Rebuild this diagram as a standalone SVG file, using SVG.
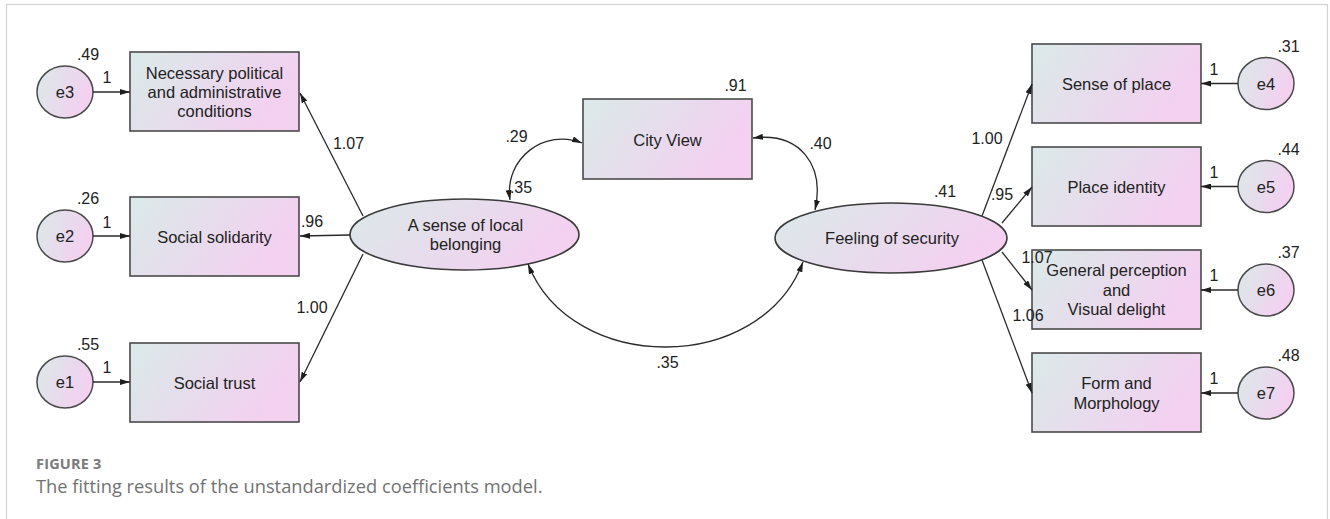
<svg xmlns="http://www.w3.org/2000/svg" width="1330" height="519" viewBox="0 0 1330 519">
<defs>
<linearGradient id="g" x1="0" y1="0" x2="1" y2="0.35">
<stop offset="0" stop-color="#dbeae9"/>
<stop offset="0.5" stop-color="#e6ddec"/>
<stop offset="1" stop-color="#f4d0f1"/>
</linearGradient>
<marker id="arr" viewBox="0 0 10 6" refX="10" refY="3" markerWidth="10" markerHeight="6" orient="auto-start-reverse" markerUnits="userSpaceOnUse">
<path d="M0,0 L10,3 L0,6 z" fill="#1e1e1e"/>
</marker>
<style>
.box{fill:url(#g);stroke:#4a4a4a;stroke-width:1.6}
.lat{fill:url(#g);stroke:#3a3a3a;stroke-width:1.6}
.err{fill:url(#g);stroke:#4a4a4a;stroke-width:1.5}
.t{font-family:"Liberation Sans",Arial,sans-serif;font-size:16.5px;fill:#222;text-anchor:middle}
.n{font-family:"Liberation Sans",Arial,sans-serif;font-size:16px;fill:#222;text-anchor:middle}
.c{fill:none;stroke:#2a2a2a;stroke-width:1.3}
.a{marker-end:url(#arr)}
.b{marker-start:url(#arr);marker-end:url(#arr)}
</style>
</defs>
<rect x="6.5" y="4.5" width="1321" height="560" fill="#ffffff" stroke="#d2d2d2" stroke-width="1.2"/>

<g id="e3"><ellipse class="err" cx="65" cy="92" rx="28" ry="26"/><text class="t" x="65" y="98">e3</text><text class="n" x="88" y="60">.49</text></g>
<g id="e2"><ellipse class="err" cx="65" cy="236" rx="28" ry="26"/><text class="t" x="65" y="242">e2</text><text class="n" x="88" y="204">.26</text></g>
<g id="e1"><ellipse class="err" cx="65" cy="382" rx="28" ry="26"/><text class="t" x="65" y="388">e1</text><text class="n" x="88" y="350">.55</text></g>

<g id="necessary"><rect class="box" x="130" y="52" width="169" height="79"/>
<text class="t" x="214.5" y="78.5">Necessary political</text>
<text class="t" x="214.5" y="97.5">and administrative</text>
<text class="t" x="214.5" y="117">conditions</text></g>
<g id="solidarity"><rect class="box" x="130" y="197" width="169" height="79"/><text class="t" x="214.5" y="243">Social solidarity</text></g>
<g id="trust"><rect class="box" x="130" y="343" width="169" height="79"/><text class="t" x="214.5" y="389">Social trust</text></g>

<g id="belonging"><ellipse class="lat" cx="464.5" cy="234.5" rx="114.5" ry="35.5"/>
<text class="t" x="465.5" y="231">A sense of local</text>
<text class="t" x="465.5" y="250">belonging</text></g>

<g id="cityview"><rect class="box" x="583" y="99" width="169" height="80"/><text class="t" x="667.5" y="145.5">City View</text><text class="n" x="735.5" y="91">.91</text></g>

<g id="security"><ellipse class="lat" cx="891" cy="238" rx="116" ry="35"/><text class="t" x="892" y="244">Feeling of security</text><text class="n" x="945" y="197">.41</text></g>

<g id="place"><rect class="box" x="1032" y="44" width="169" height="79"/><text class="t" x="1116.5" y="89.5">Sense of place</text></g>
<g id="identity"><rect class="box" x="1032" y="147" width="169" height="79"/><text class="t" x="1116.5" y="192.5">Place identity</text></g>
<g id="perception"><rect class="box" x="1032" y="250" width="169" height="79"/>
<text class="t" x="1116.5" y="276">General perception</text>
<text class="t" x="1116.5" y="295.5">and</text>
<text class="t" x="1116.5" y="315">Visual delight</text></g>
<g id="form"><rect class="box" x="1032" y="353" width="169" height="79"/>
<text class="t" x="1116.5" y="389">Form and</text>
<text class="t" x="1116.5" y="408.5">Morphology</text></g>

<g id="e4"><ellipse class="err" cx="1266" cy="83.5" rx="28" ry="26"/><text class="t" x="1266" y="89.5">e4</text><text class="n" x="1288.5" y="51.5">.31</text></g>
<g id="e5"><ellipse class="err" cx="1266" cy="186.5" rx="28" ry="26"/><text class="t" x="1266" y="192.5">e5</text><text class="n" x="1288.5" y="154.5">.44</text></g>
<g id="e6"><ellipse class="err" cx="1266" cy="290" rx="28" ry="26"/><text class="t" x="1266" y="296">e6</text><text class="n" x="1288.5" y="258">.37</text></g>
<g id="e7"><ellipse class="err" cx="1266" cy="393" rx="28" ry="26"/><text class="t" x="1266" y="399">e7</text><text class="n" x="1288.5" y="361">.48</text></g>

<g id="connectors">
<line class="c a" x1="93" y1="92" x2="130" y2="92"/>
<line class="c a" x1="93" y1="236" x2="130" y2="236"/>
<line class="c a" x1="93" y1="382" x2="130" y2="382"/>
<line class="c a" x1="1238" y1="83.5" x2="1201" y2="83.5"/>
<line class="c a" x1="1238" y1="186.5" x2="1201" y2="186.5"/>
<line class="c a" x1="1238" y1="290" x2="1201" y2="290"/>
<line class="c a" x1="1238" y1="393" x2="1201" y2="393"/>
<line class="c a" x1="363" y1="216" x2="300" y2="93"/>
<line class="c a" x1="350" y1="235" x2="300" y2="236"/>
<line class="c a" x1="363" y1="254" x2="300" y2="382"/>
<line class="c a" x1="982" y1="216" x2="1032" y2="84"/>
<line class="c a" x1="1002" y1="223" x2="1032" y2="187"/>
<line class="c a" x1="1002" y1="252" x2="1032" y2="290"/>
<line class="c a" x1="982" y1="260" x2="1032" y2="393"/>
<path class="c b" d="M510,200 C504,158 545,128 582,143"/>
<path class="c b" d="M753,138 C800,132 825,165 815,210"/>
<path class="c b" d="M528,264 C572,375 760,375 803,262"/>
<text class="n" x="348.5" y="149">1.07</text>
<text class="n" x="312" y="227">.96</text>
<text class="n" x="312" y="313">1.00</text>
<text class="n" x="987" y="144">1.00</text>
<text class="n" x="1002" y="200">.95</text>
<text class="n" x="1037" y="263">1.07</text>
<text class="n" x="1028" y="321">1.06</text>
<text class="n" x="516.5" y="142">.29</text>
<text class="n" x="521" y="193">.35</text>
<text class="n" x="820.5" y="149">.40</text>
<text class="n" x="667.5" y="368">.35</text>
<text class="n" x="107" y="83">1</text>
<text class="n" x="107" y="228">1</text>
<text class="n" x="107" y="373">1</text>
<text class="n" x="1214" y="75">1</text>
<text class="n" x="1214" y="178">1</text>
<text class="n" x="1214" y="281">1</text>
<text class="n" x="1214" y="384">1</text>
</g>

<g id="caption">
<text x="36" y="469" font-family="'Open Sans',sans-serif" font-size="14.5" font-weight="700" letter-spacing="0.2" fill="#7a7a7a">FIGURE 3</text>
<text x="36" y="493" font-family="'Open Sans',sans-serif" font-size="18.3" fill="#727272">The fitting results of the unstandardized coefficients model.</text>
</g>
</svg>
